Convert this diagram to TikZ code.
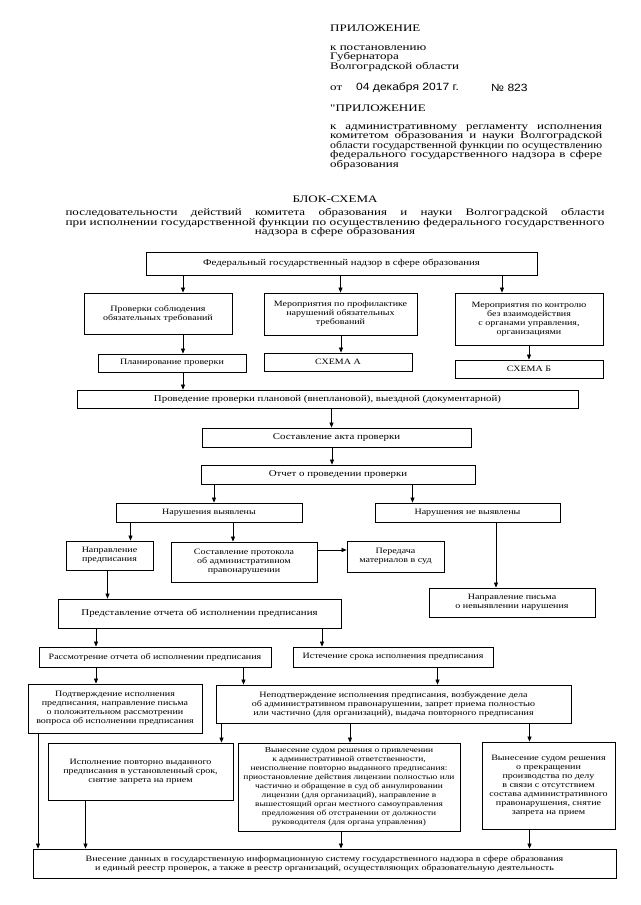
\documentclass[tikz,border=0pt]{standalone}
\usepackage{fontspec}
\usepackage{graphicx}
\setmainfont{Liberation Serif}
\newfontfamily\boxfont[FakeStretch=1.22]{Liberation Serif}
\newfontfamily\headfont[FakeStretch=1.3]{Liberation Serif}
\newfontfamily\datefont[FakeStretch=1.15]{Liberation Sans}
\usetikzlibrary{arrows.meta}

\begin{document}
\begin{tikzpicture}[x=1pt,y=-1pt,
			blk/.style={draw,line width=0.8pt,align=center,inner sep=0pt,
				font=\boxfont\fontsize{8.2}{9}\selectfont},
			bigblk/.style={blk,font=\boxfont\fontsize{8.9}{9}\selectfont},
			sz/.style 2 args={minimum width=#1pt,minimum height=#2pt},
			arr/.style={-{Triangle[length=5pt,width=4pt]},line width=0.7pt},
			head/.style={anchor=west,inner sep=0pt,align=left,
				font=\headfont\fontsize{10}{9.5}\selectfont}]
		\useasboundingbox (0,0) rectangle (640,905);
		% heading
		\node[head] (app) at (330,28) {ПРИЛОЖЕНИЕ};
		\node[head] (decree) at (330,58.5) {к постановлению\\Губернатора\\Волгоградской области};
		\node[head] (ot) at (330,88) {от};
		\node[head,font=\datefont\fontsize{10.5}{10}\selectfont] (date) at (356,87.5) {04 декабря 2017 г.};
		\node[head,font=\datefont\fontsize{10.5}{10}\selectfont] (num) at (491,87.5) {№ 823};
		\node[head] (app2) at (330,108) {"ПРИЛОЖЕНИЕ};
		\node[head] (regl) at (330,147) {\makebox[272pt][s]{к административному регламенту исполнения}\\
			\makebox[272pt][s]{комитетом образования и науки Волгоградской}\\
			\resizebox{272pt}{\height}{области государственной функции по осуществлению}\\
			\makebox[272pt][s]{федерального государственного надзора в сфере}\\
			образования};
		\node[head,anchor=center] (title) at (335,199) {БЛОК-СХЕМА};
		\node[head,anchor=center,align=center] (sub) at (335,222.5) {\makebox[539pt][s]{последовательности действий комитета образования и науки Волгоградской области}\\
			\resizebox{539pt}{\height}{при исполнении государственной функции по осуществлению федерального государственного}\\
			надзора в сфере образования};
		% boxes
		\node[bigblk,sz={391}{23}] (fed) at (341.5,263.5) {Федеральный государственный надзор в сфере образования};
		\node[blk,sz={148}{41}] (chk) at (158,313.5) {Проверки соблюдения\\обязательных требований};
		\node[blk,sz={153}{42}] (prof) at (340.5,314) {Мероприятия по профилактике\\нарушений обязательных\\требований};
		\node[blk,sz={148}{52}] (ctrl) at (529,319) {Мероприятия по контролю\\без взаимодействия\\с органами управления,\\организациями};
		\node[blk,sz={148}{18}] (plan) at (172,363) {Планирование проверки};
		\node[blk,sz={148}{18}] (schA) at (338,362) {СХЕМА А};
		\node[blk,sz={148}{18}] (schB) at (529,369) {СХЕМА Б};
		\node[bigblk,sz={501}{18}] (cond) at (327.5,399) {Проведение проверки плановой (внеплановой), выездной (документарной)};
		\node[bigblk,sz={269}{19}] (act) at (336.5,437.5) {Составление акта проверки};
		\node[bigblk,sz={274}{19}] (rep) at (338,474.5) {Отчет о проведении проверки};
		\node[blk,sz={186}{19}] (viol) at (209,512.5) {Нарушения выявлены};
		\node[blk,sz={185}{19}] (noviol) at (467.5,512.5) {Нарушения не выявлены};
		\node[blk,sz={87}{29}] (order) at (109.5,555.5) {Направление\\предписания};
		\node[blk,sz={146}{40}] (prot) at (244,562) {Составление протокола\\об административном\\правонарушении};
		\node[blk,sz={97}{31}] (court) at (395.5,556.5) {Передача\\материалов в суд};
		\node[blk,sz={166}{29}] (letter) at (512,602.5) {Направление письма\\о невыявлении нарушения};
		\node[bigblk,sz={283}{29}] (subm) at (199.5,613.5) {Представление отчета об исполнении предписания};
		\node[blk,sz={232}{20}] (review) at (155,657) {Рассмотрение отчета об исполнении предписания};
		\node[blk,sz={200}{20}] (expiry) at (393,657) {Истечение срока исполнения предписания};
		\node[blk,sz={174}{49}] (conf) at (115,708.5) {Подтверждение исполнения\\предписания, направление письма\\о положительном рассмотрении\\вопроса об исполнении предписания};
		\node[blk,sz={355}{38}] (nconf) at (393.5,704) {Неподтверждение исполнения предписания, возбуждение дела\\об административном правонарушении, запрет приема полностью\\или частично (для организаций), выдача повторного предписания};
		\node[blk,sz={185}{57}] (exec) at (140.5,771.5) {Исполнение повторно выданного\\предписания в установленный срок,\\снятие запрета на прием};
		\node[blk,sz={222}{88},font=\boxfont\fontsize{7.7}{9}\selectfont] (fine) at (349,787) {Вынесение судом решения о привлечении\\к административной ответственности,\\неисполнение повторно выданного предписания:\\приостановление действия лицензии полностью или\\частично и обращение в суд об аннулировании\\лицензии (для организаций), направление в\\вышестоящий орган местного самоуправления\\предложения об отстранении  от должности\\руководителя (для органа управления)};
		\node[blk,sz={133}{87}] (stop) at (548.5,785.5) {Вынесение судом решения\\о прекращении\\производства по делу\\в связи с отсутствием\\состава административного\\правонарушения, снятие\\запрета на прием};
		\node[blk,sz={583}{29}] (db) at (324.5,863.5) {Внесение данных в государственную информационную систему государственного надзора в сфере образования\\и единый реестр проверок, а также в реестр организаций, осуществляющих образовательную деятельность};
		% arrows
		\draw[arr] ([xshift=25pt]chk.north |- fed.south) -- ([xshift=25pt]chk.north);
		\draw[arr] (prof.north |- fed.south) -- (prof.north);
		\draw[arr] ([xshift=-27pt]ctrl.north |- fed.south) -- ([xshift=-27pt]ctrl.north);
		\draw[arr] ([xshift=11pt]plan.north |- chk.south) -- ([xshift=11pt]plan.north);
		\draw[arr] ([xshift=3pt]schA.north |- prof.south) -- ([xshift=3pt]schA.north);
		\draw[arr] (schB.north |- ctrl.south) -- (schB.north);
		\draw[arr] ([xshift=11pt]plan.south) -- ([xshift=11pt]plan.south |- cond.north);
		\draw[arr] ([xshift=-5pt]act.north |- cond.south) -- ([xshift=-5pt]act.north);
		\draw[arr] ([xshift=-6pt]rep.north |- act.south) -- ([xshift=-6pt]rep.north);
		\draw[arr] ([xshift=5pt]viol.north |- rep.south) -- ([xshift=5pt]viol.north);
		\draw[arr] ([xshift=-55pt]noviol.north |- rep.south) -- ([xshift=-55pt]noviol.north);
		\draw[arr] ([xshift=21pt]order.north |- viol.south) -- ([xshift=21pt]order.north);
		\draw[arr] ([xshift=-11pt]prot.north |- viol.south) -- ([xshift=-11pt]prot.north);
		\draw[arr] ([yshift=12pt]prot.east) -- ([yshift=12pt]prot.east -| court.west);
		\draw[arr] ([xshift=-16pt]letter.north |- noviol.south) -- ([xshift=-16pt]letter.north);
		\draw[arr] ([xshift=-2pt]order.south) -- ([xshift=-2pt]order.south |- subm.north);
		\draw[arr] ([xshift=-59pt]review.north |- subm.south) -- ([xshift=-59pt]review.north);
		\draw[arr] ([xshift=-71pt]expiry.north |- subm.south) -- ([xshift=-71pt]expiry.north);
		\draw[arr] ([xshift=-19pt]conf.north |- review.south) -- ([xshift=-19pt]conf.north);
		\draw[arr] ([xshift=-150pt]nconf.north |- review.south) -- ([xshift=-150pt]nconf.north);
		\draw[arr] ([xshift=44pt]nconf.north |- expiry.south) -- ([xshift=44pt]nconf.north);
		\draw[arr] ([xshift=81pt]exec.north |- nconf.south) -- ([xshift=81pt]exec.north);
		\draw[arr] ([xshift=1pt]fine.north |- nconf.south) -- ([xshift=1pt]fine.north);
		\draw[arr] ([xshift=-19pt]stop.north |- nconf.south) -- ([xshift=-19pt]stop.north);
		\draw[arr] ([xshift=-77pt]conf.south) -- ([xshift=-77pt]conf.south |- db.north);
		\draw[arr] ([xshift=-55pt]exec.south) -- ([xshift=-55pt]exec.south |- db.north);
		\draw[arr] ([xshift=-8pt]fine.south) -- ([xshift=-8pt]fine.south |- db.north);
		\draw[arr] ([xshift=-19pt]stop.south) -- ([xshift=-19pt]stop.south |- db.north);
		\end{tikzpicture}
\end{document}
